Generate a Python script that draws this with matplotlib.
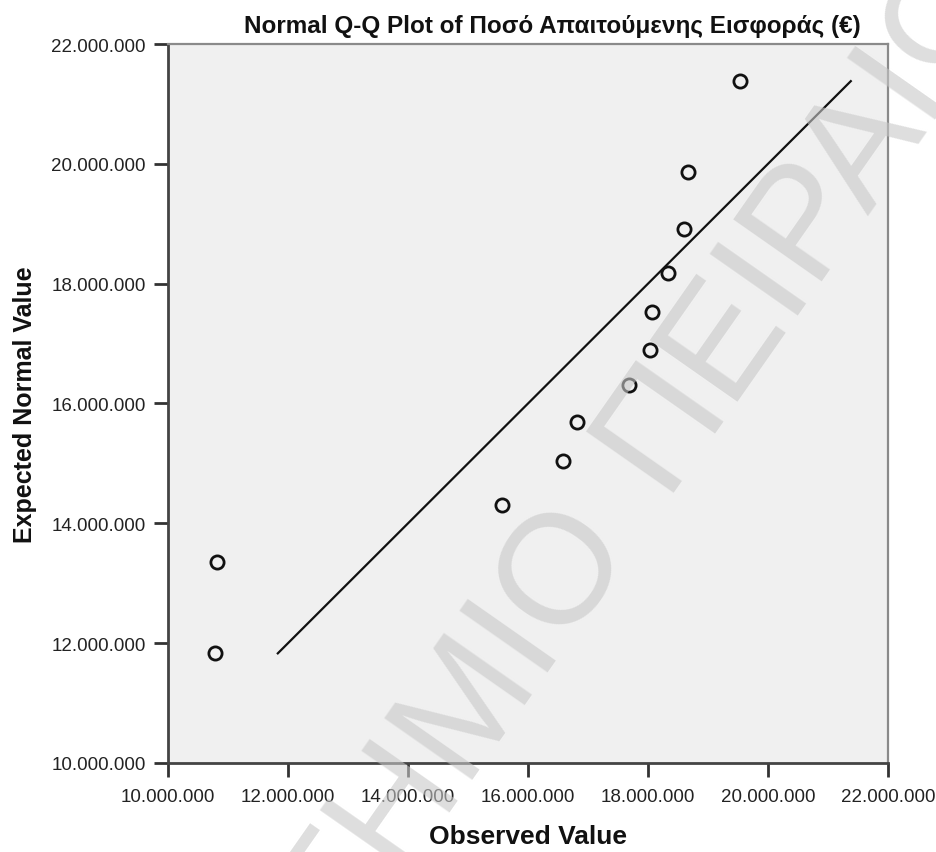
import numpy as np
import matplotlib
matplotlib.use("Agg")
import matplotlib.pyplot as plt
from matplotlib.ticker import FuncFormatter, MultipleLocator

# values (observed vs expected normal quantiles)
observed = [10790000, 10810000, 15570000, 16590000, 16810000, 17680000,
            18030000, 18070000, 18340000, 18600000, 18660000, 19530000]
expected = [11830000, 13350000, 14300000, 15040000, 15690000, 16310000,
            16900000, 17520000, 18170000, 18910000, 19860000, 21380000]

title = "Normal Q-Q Plot of Ποσό Απαιτούμενης Εισφοράς (€)"
xlabel = "Observed Value"
ylabel = "Expected Normal Value"
watermark_left = "ΠΑΝΕΠΙΣΤΗΜΙΟ"
watermark_right = "ΠΕΙΡΑΙΩΣ"

W, H = 937, 853
fig = plt.figure(figsize=(W / 100, H / 100), dpi=100)
ax = fig.add_axes([168 / W, 1 - 764 / H, 720 / W, 719 / H])
ax.set_facecolor("#f0f0f0")

# reference line y = x over the range of expected values
lo, hi = min(expected), max(expected)
ax.plot([lo, hi], [lo, hi], color="#111111", lw=1.6, zorder=2)
ax.plot(observed, expected, "o", ms=9.5, mfc="none", mec="#111111",
        mew=2.0, zorder=3)

ax.set_xlim(10e6, 22e6)
ax.set_ylim(10e6, 22e6)
ax.xaxis.set_major_locator(MultipleLocator(2e6))
ax.yaxis.set_major_locator(MultipleLocator(2e6))
fmt = FuncFormatter(lambda v, p: f"{int(round(v)):,}".replace(",", "."))
ax.xaxis.set_major_formatter(fmt)
ax.yaxis.set_major_formatter(fmt)

font = ["Liberation Sans", "DejaVu Sans"]
ax.tick_params(axis="both", direction="out", length=10, width=2,
               color="#333333", labelsize=13.5, labelcolor="#222222")
ax.tick_params(axis="x", pad=8)
ax.tick_params(axis="y", pad=6)
for lab in ax.get_xticklabels() + ax.get_yticklabels():
    lab.set_family(font)

for s in ["left", "bottom"]:
    ax.spines[s].set_color("#444444")
    ax.spines[s].set_linewidth(2)
for s in ["top", "right"]:
    ax.spines[s].set_color("#8a8a8a")
    ax.spines[s].set_linewidth(1.6)

ax.set_xlabel(xlabel, fontsize=19, fontweight="bold", family=font,
              labelpad=14, color="#111111")
ax.set_ylabel(ylabel, fontsize=18, fontweight="bold", family=font,
              labelpad=10, color="#111111")

fig.text(552 / W, 1 - 33 / H, title, ha="center", va="baseline",
         fontsize=17.5, fontweight="bold", family=font, color="#111111")

# diagonal watermark laid over everything
ang = 55
d = np.array([np.cos(np.radians(ang)), np.sin(np.radians(ang))])
anchor = np.array([612.0, H - 492.0])
gap = 28
for txt, sgn, ha in [(watermark_left, -1, "right"), (watermark_right, 1, "left")]:
    px, py = anchor + sgn * gap * d
    fig.text(px / W, py / H, txt, ha=ha, va="center", rotation=ang,
             rotation_mode="anchor", fontsize=112, color="#c8c8c8",
             alpha=0.6, family=font, zorder=10)

fig.savefig("out.png", dpi=100, facecolor="white")
